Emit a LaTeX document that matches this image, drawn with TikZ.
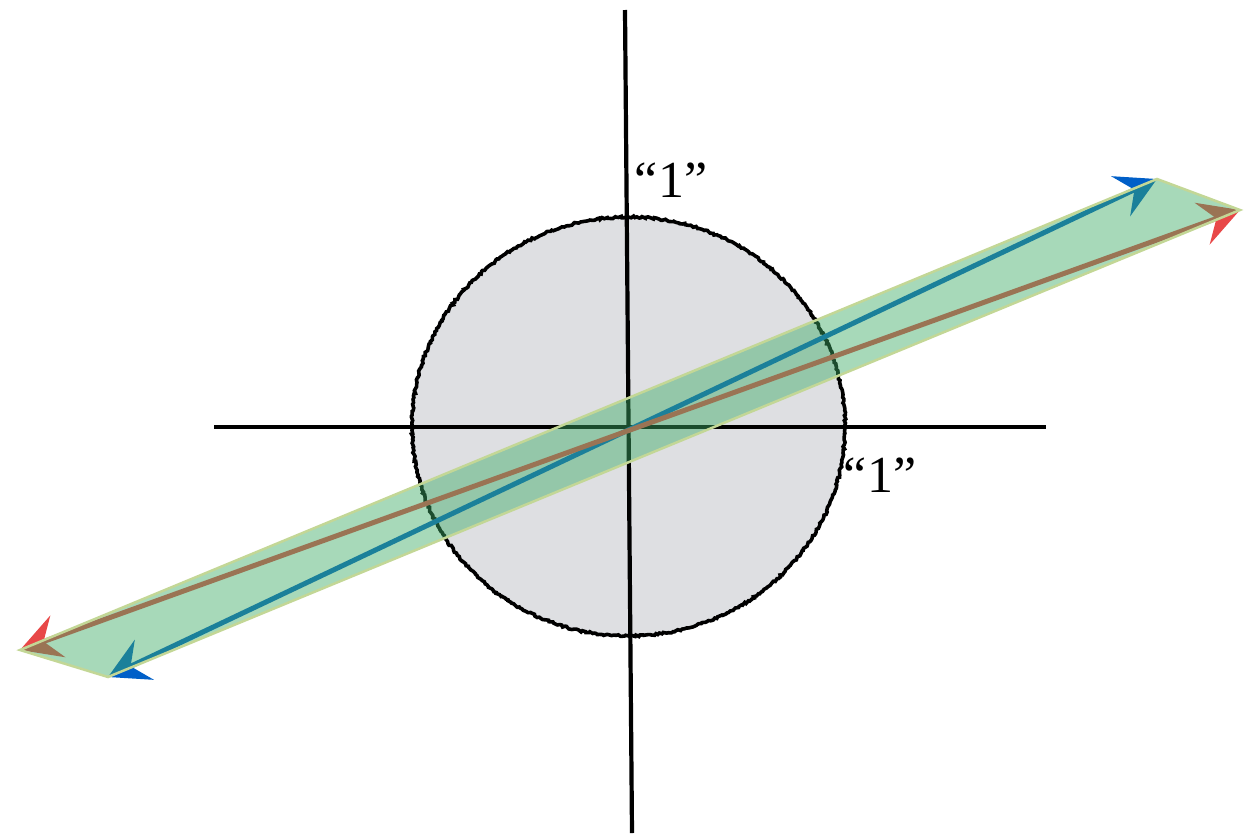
\documentclass[tikz,border=0pt]{standalone}
\usepackage{fontspec}
\setmainfont{Liberation Serif}
\usetikzlibrary{arrows.meta,decorations.pathmorphing,shapes.geometric}
\definecolor{discgray}{RGB}{222,223,226}
\definecolor{bandgreen}{RGB}{60,170,100}
\definecolor{bandedge}{RGB}{195,215,150}
\definecolor{blueline}{RGB}{0,95,200}
\definecolor{redline}{RGB}{232,72,72}
\tikzset{
  axis/.style={line width=4.2pt, black},
  disc/.style={fill=discgray, draw=black, line width=3.6pt,
     decorate, decoration={random steps, segment length=2pt, amplitude=1pt}},
  vecarrow/.style={line width=5pt, {Stealth[length=40pt,width=44pt,inset=15pt]}-{Stealth[length=40pt,width=44pt,inset=15pt]}},
  band/.style={fill=bandgreen, fill opacity=0.45, draw=bandedge, line width=2.5pt, line join=miter},
  unitlabel/.style={font=\fontsize{52}{62}\selectfont, anchor=base, inner sep=0pt}
}
\begin{document}
\begin{tikzpicture}[x=1pt,y=-1pt]
\useasboundingbox (0,0) rectangle (1245,833);
% disc
\coordinate (o) at (628.5,426.5);
\draw[disc] (o) ellipse [x radius=216.5pt, y radius=209.5pt];
% axes
\coordinate (xl) at (214,427);
\coordinate (xr) at (1046,427);
\coordinate (yt) at (625,10);
\coordinate (yb) at (632,833);
\draw[axis] (xl) -- (xr);
\draw[axis] (yt) -- (yb);
% arrow tips / band corners
\coordinate (blo) at (108,677);
\coordinate (bhi) at (1157,179);
\coordinate (rlo) at (20,650);
\coordinate (rhi) at (1240,210);
\draw[vecarrow, blueline] (blo) -- (bhi);
\draw[vecarrow, redline] (rlo) -- (rhi);
% translucent band on top
\draw[band] (rlo) -- (bhi) -- (rhi) -- (blo) -- cycle;
% labels
\node[unitlabel] (ly) at (671,197) {“1”};
\node[unitlabel] (lx) at (880,492) {“1”};
\end{tikzpicture}
\end{document}
